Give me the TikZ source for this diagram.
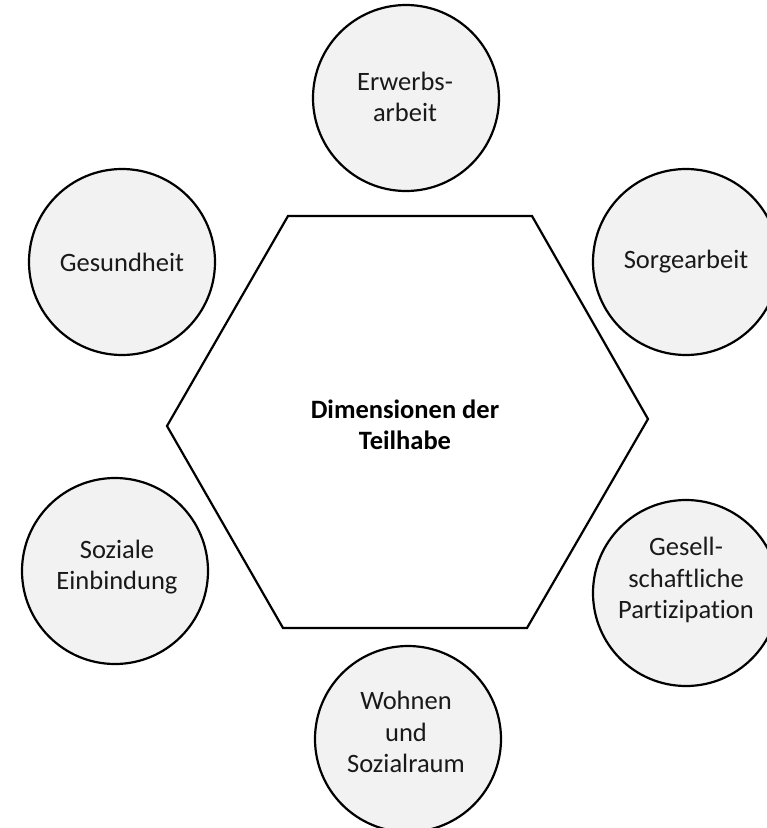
\documentclass[tikz,border=0pt]{standalone}
\usepackage{fontspec}
\setmainfont{Carlito}[Ligatures=NoCommon]
\begin{document}
\begin{tikzpicture}[x=1pt,y=-1pt,
  dim/.style={circle,draw=black,line width=2.2pt,fill=black!5,minimum size=186pt,inner sep=0pt},
  lbl/.style={align=center,font=\fontsize{26.5}{31.5}\selectfont,text=black!90},
  core/.style={align=center,font=\fontsize{26.5}{31.5}\selectfont\bfseries}]
\useasboundingbox (0,0) rectangle (767,828);
\clip (0,0) rectangle (767,828);
% central hexagon
\coordinate (h1) at (288,216);
\coordinate (h2) at (532,216);
\coordinate (h3) at (648,419);
\coordinate (h4) at (527,628);
\coordinate (h5) at (283,628);
\coordinate (h6) at (167,426);
\draw[line width=2.2pt,line join=miter] (h1) -- (h2) -- (h3) -- (h4) -- (h5) -- (h6) -- cycle;
\node[core] (center) at (405,425) {Dimensionen der\\Teilhabe};
% surrounding dimensions
\node[dim] (erwerb) at (406,98) {};
\node[lbl] (erwerbT) at (405,97) {Erwerbs-\\arbeit};
\node[dim] (sorge) at (686,262) {};
\node[lbl] (sorgeT) at (686,262) {Sorgearbeit};
\node[dim] (gesund) at (122,262) {};
\node[lbl] (gesundT) at (122,262) {Gesundheit};
\node[dim] (sozial) at (115,571) {};
\node[lbl] (sozialT) at (117,567) {Soziale\\Einbindung};
\node[dim] (partiz) at (686,593) {};
\node[lbl] (partizT) at (686,580) {Gesell-\\schaftliche\\Partizipation};
\node[dim] (wohnen) at (408,739) {};
\node[lbl] (wohnenT) at (406,732) {Wohnen\\und\\Sozialraum};
\end{tikzpicture}
\end{document}
